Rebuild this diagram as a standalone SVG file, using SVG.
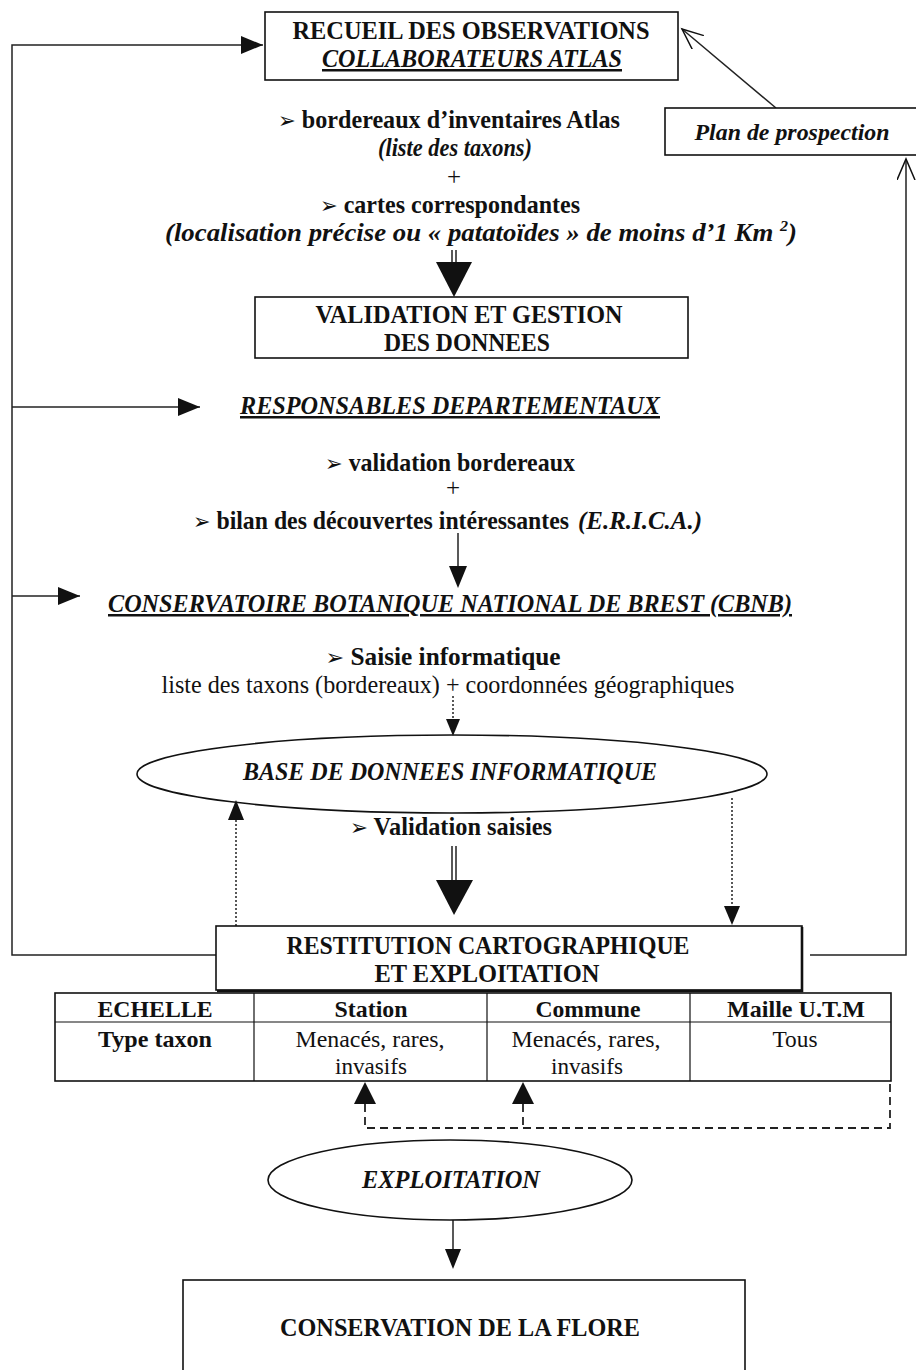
<svg xmlns="http://www.w3.org/2000/svg" width="916" height="1370" viewBox="0 0 916 1370">
<style>
.t{font-family:"Liberation Serif","DejaVu Serif",serif;font-size:25px;fill:#111;text-anchor:middle}
.st{text-anchor:start}
.s{font-size:24px}
.b{font-weight:bold}
.i{font-style:italic}
.u{text-decoration:underline}
.ar{font-family:"DejaVu Sans",sans-serif;font-weight:normal;font-style:normal;font-size:22px}
.box{fill:#fff;stroke:#111;stroke-width:1.6}
.ln{fill:none;stroke:#222;stroke-width:1.5}
.dot{fill:none;stroke:#222;stroke-width:1.5;stroke-dasharray:2 2}
.dash{fill:none;stroke:#222;stroke-width:1.8;stroke-dasharray:8 5}
.hd{fill:#111;stroke:none}
</style>
<defs>
<marker id="tri" markerUnits="userSpaceOnUse" markerWidth="24" markerHeight="20" refX="22" refY="9" orient="auto">
<path d="M0,0 L22,9 L0,18 z" fill="#111"/>
</marker>
<marker id="open" markerUnits="userSpaceOnUse" markerWidth="24" markerHeight="20" refX="21" refY="9" orient="auto">
<path d="M0,0 L21,9 L0,18" fill="none" stroke="#111" stroke-width="1.5"/>
</marker>
</defs>
<rect width="916" height="1370" fill="#fff"/>

<g id="connectors">
<path class="ln" d="M221,955 H12 V45 H263" marker-end="url(#tri)"/>
<path class="ln" d="M12,407 H200" marker-end="url(#tri)"/>
<path class="ln" d="M12,596 H80" marker-end="url(#tri)"/>
<path class="ln" d="M810,955 H906 V159" marker-end="url(#open)"/>
<path class="ln" d="M776,108 L682,29" marker-end="url(#open)"/>
<path class="ln" d="M452,250 V264 M456,250 V264"/>
<polygon class="hd" points="436,262 472,262 454,297"/>
<path class="ln" d="M458,533 V570"/>
<polygon class="hd" points="449,566 467,566 458,588"/>
<path class="dot" d="M453,696 V722"/>
<polygon class="hd" points="446,719 460,719 453,736"/>
<path class="ln" d="M452,846 V882 M456,846 V882"/>
<polygon class="hd" points="436,880 473,880 454,915"/>
<path class="dot" d="M236,926 V818"/>
<polygon class="hd" points="228,820 244,820 236,800"/>
<path class="dot" d="M732,798 V908"/>
<polygon class="hd" points="724,906 740,906 732,925"/>
<path class="dash" d="M365,1104 V1128 H890 V1083"/>
<path class="dash" d="M523,1104 V1128"/>
<polygon class="hd" points="354,1104 376,1104 365,1082"/>
<polygon class="hd" points="512,1104 534,1104 523,1082"/>
<path class="ln" d="M453,1220 V1252"/>
<polygon class="hd" points="445,1249 461,1249 453,1269"/>
</g>

<g id="recueil">
<rect class="box" x="265" y="12" width="413" height="68"/>
<text class="t b" x="471" y="39" textLength="357" lengthAdjust="spacingAndGlyphs">RECUEIL DES OBSERVATIONS</text>
<text class="t b i u" x="472" y="67" textLength="300" lengthAdjust="spacingAndGlyphs">COLLABORATEURS ATLAS</text>
</g>

<g id="plan">
<rect class="box" x="665" y="108" width="260" height="47"/>
<text class="t s b i" x="792" y="140" textLength="195" lengthAdjust="spacingAndGlyphs">Plan de prospection</text>
</g>

<g id="texts-atlas">
<text class="t b" x="449" y="128" textLength="342" lengthAdjust="spacingAndGlyphs"><tspan class="ar">➢</tspan> bordereaux d’inventaires Atlas</text>
<text class="t b i" x="455" y="156" textLength="154" lengthAdjust="spacingAndGlyphs">(liste des taxons)</text>
<text class="t" x="454" y="185">+</text>
<text class="t b" x="450" y="213" textLength="260" lengthAdjust="spacingAndGlyphs"><tspan class="ar">➢</tspan> cartes correspondantes</text>
<text class="t b i" x="481" y="241" textLength="632" lengthAdjust="spacingAndGlyphs">(localisation précise ou « patatoïdes » de moins d’1 Km <tspan dy="-10" font-size="15">2</tspan><tspan dy="10">)</tspan></text>
</g>

<g id="validation">
<rect class="box" x="255" y="297" width="433" height="61"/>
<text class="t b" x="469" y="323" textLength="307" lengthAdjust="spacingAndGlyphs">VALIDATION ET GESTION</text>
<text class="t b" x="467" y="351" textLength="166" lengthAdjust="spacingAndGlyphs">DES DONNEES</text>
</g>

<g id="responsables">
<text class="t b i u" x="450" y="414" textLength="420" lengthAdjust="spacingAndGlyphs">RESPONSABLES DEPARTEMENTAUX</text>
<text class="t b" x="450" y="471" textLength="250" lengthAdjust="spacingAndGlyphs"><tspan class="ar">➢</tspan> validation bordereaux</text>
<text class="t" x="453" y="496">+</text>
<text class="t st b" x="193" y="529" textLength="376" lengthAdjust="spacingAndGlyphs"><tspan class="ar">➢</tspan> bilan des découvertes intéressantes</text>
<text class="t st b i" x="578" y="529" textLength="124" lengthAdjust="spacingAndGlyphs">(E.R.I.C.A.)</text>
</g>

<g id="cbnb">
<text class="t b i u" x="450" y="612" textLength="684" lengthAdjust="spacingAndGlyphs">CONSERVATOIRE BOTANIQUE NATIONAL DE BREST (CBNB)</text>
<text class="t b" x="443" y="665" textLength="235" lengthAdjust="spacingAndGlyphs"><tspan class="ar">➢</tspan> Saisie informatique</text>
<text class="t" x="448" y="693" textLength="573" lengthAdjust="spacingAndGlyphs">liste des taxons (bordereaux) +  coordonnées géographiques</text>
</g>

<g id="base">
<ellipse cx="452" cy="774" rx="315" ry="39" fill="none" stroke="#111" stroke-width="1.6"/>
<text class="t b i" x="450" y="780" textLength="414" lengthAdjust="spacingAndGlyphs">BASE DE DONNEES INFORMATIQUE</text>
<text class="t b" x="451" y="835" textLength="202" lengthAdjust="spacingAndGlyphs"><tspan class="ar">➢</tspan> Validation saisies</text>
</g>

<g id="restitution">
<rect class="box" x="216" y="926" width="586" height="64"/>
<path d="M802,927 V991 H217" fill="none" stroke="#111" stroke-width="2.6"/>
<text class="t b" x="488" y="954" textLength="403" lengthAdjust="spacingAndGlyphs">RESTITUTION CARTOGRAPHIQUE</text>
<text class="t b" x="487" y="982" textLength="225" lengthAdjust="spacingAndGlyphs">ET EXPLOITATION</text>
</g>

<g id="table">
<rect x="55" y="993" width="836" height="88" fill="none" stroke="#111" stroke-width="1.6"/>
<path d="M55,1022 H891 M254,993 V1081 M487,993 V1081 M690,993 V1081" fill="none" stroke="#111" stroke-width="1.2"/>
<text class="t s b" x="155" y="1017" textLength="115" lengthAdjust="spacingAndGlyphs">ECHELLE</text>
<text class="t s b" x="371" y="1017" textLength="73" lengthAdjust="spacingAndGlyphs">Station</text>
<text class="t s b" x="588" y="1017" textLength="105" lengthAdjust="spacingAndGlyphs">Commune</text>
<text class="t s b" x="796" y="1017" textLength="138" lengthAdjust="spacingAndGlyphs">Maille U.T.M</text>
<text class="t s b" x="155" y="1047" textLength="114" lengthAdjust="spacingAndGlyphs">Type taxon</text>
<text class="t s" x="370" y="1047" textLength="149" lengthAdjust="spacingAndGlyphs">Menacés, rares,</text>
<text class="t s" x="371" y="1074" textLength="72" lengthAdjust="spacingAndGlyphs">invasifs</text>
<text class="t s" x="586" y="1047" textLength="149" lengthAdjust="spacingAndGlyphs">Menacés, rares,</text>
<text class="t s" x="587" y="1074" textLength="72" lengthAdjust="spacingAndGlyphs">invasifs</text>
<text class="t s" x="795" y="1047" textLength="45" lengthAdjust="spacingAndGlyphs">Tous</text>
</g>

<g id="exploitation">
<ellipse cx="450" cy="1180" rx="182" ry="40" fill="none" stroke="#111" stroke-width="1.6"/>
<text class="t b i" x="451" y="1188" textLength="178" lengthAdjust="spacingAndGlyphs">EXPLOITATION</text>
</g>

<g id="conservation">
<rect class="box" x="183" y="1280" width="562" height="100"/>
<text class="t b" x="460" y="1336" textLength="360" lengthAdjust="spacingAndGlyphs">CONSERVATION DE LA FLORE</text>
</g>
</svg>
